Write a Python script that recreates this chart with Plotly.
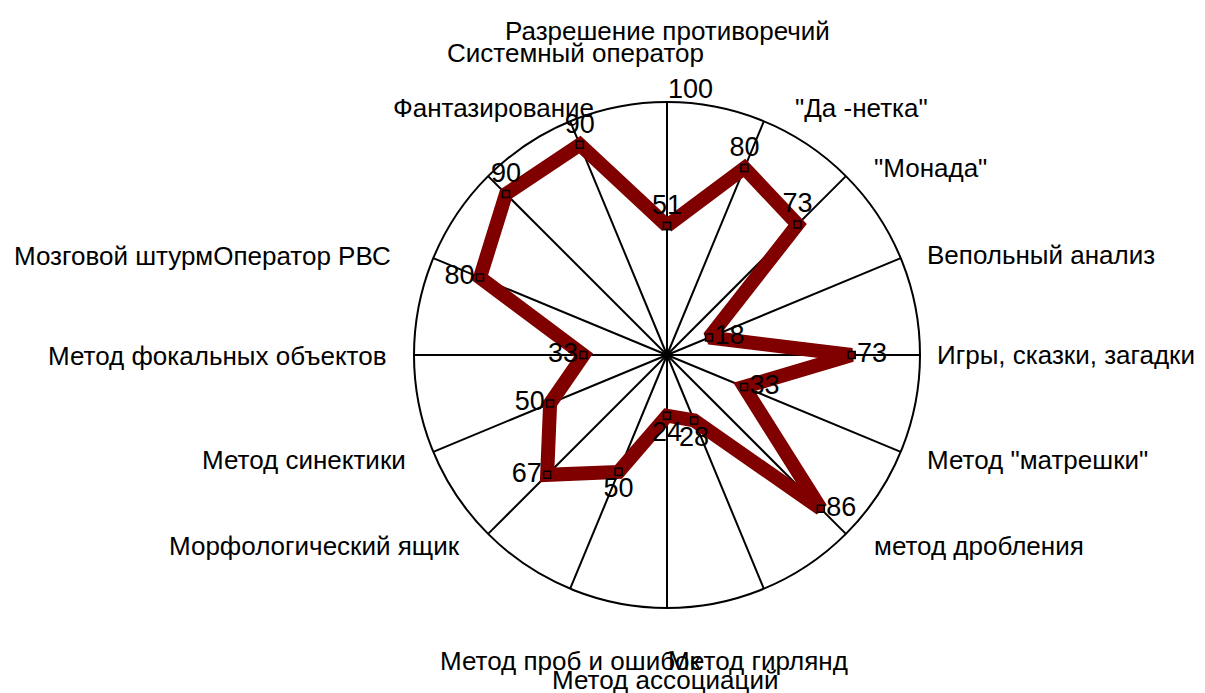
import plotly.graph_objects as go

# ---- data ----
categories = [
    "Разрешение противоречий", '"Да -нетка"', '"Монада"', "Вепольный анализ",
    "Игры, сказки, загадки", 'Метод "матрешки"', "метод дробления", "Метод гирлянд",
    "Метод ассоциаций", "Метод проб и ошибок", "Морфологический ящик", "Метод синектики",
    "Метод фокальных объектов", "Мозговой штурм", "Оператор РВС", "Фантазирование",
]
values = [51, 80, 73, 18, 73, 33, 86, 28, 24, 50, 67, 50, 33, 80, 90, 90]
extra_label = "Системный оператор"
radial_max_label = "100"

W, H = 1205, 693
OFF = 8  # default page body margin
CX, CY, R = 667, 355, 253

def px(x):
    return (x - OFF) / W

def py(y):
    return 1 - (y - OFF) / H

label_pos = ["top center", "top center", "top center", "middle right", "middle right",
             "middle right", "middle right", "bottom center", "bottom center", "bottom center",
             "middle left", "middle left", "middle left", "middle left", "top center", "top center"]

theta = categories + [categories[0]]
r = values + [values[0]]
texts = [str(v) for v in values] + [""]
tpos = label_pos + ["top center"]

FONT = "Liberation Sans, Arial, sans-serif"

fig = go.Figure()
fig.add_trace(go.Scatterpolar(
    r=r, theta=theta, mode="lines+markers+text",
    line=dict(color="#800000", width=14),
    marker=dict(symbol="square", size=7, color="#800000", line=dict(color="#000000", width=1.5)),
    text=texts, textposition=tpos,
    textfont=dict(family=FONT, size=27, color="#000000"),
    hoverinfo="skip", cliponaxis=False,
))

fig.update_layout(
    width=W, height=H,
    margin=dict(l=0, r=0, t=0, b=0),
    paper_bgcolor="white",
    showlegend=False,
    polar=dict(
        domain=dict(x=[px(CX - R), px(CX + R)], y=[py(CY + R), py(CY - R)]),
        bgcolor="white",
        angularaxis=dict(
            type="category", rotation=90, direction="clockwise",
            showticklabels=False, ticks="",
            showgrid=True, gridcolor="#000000", gridwidth=1.5,
            showline=True, linecolor="#000000", linewidth=2,
        ),
        radialaxis=dict(
            range=[0, 100], showgrid=False, showline=False, ticks="",
            showticklabels=False, angle=90,
        ),
    ),
)

lab_font = dict(family=FONT, size=26, color="#000000")
ann = [
    (categories[0], 667.5, 31, "center"),
    (extra_label, 575, 53, "center"),
    (categories[15], 596, 108, "right"),
    (categories[1], 793, 108, "left"),
    (categories[2], 872, 168, "left"),
    (categories[3], 925, 255, "left"),
    (categories[4], 1197, 355, "right"),
    (categories[5], 925, 460, "left"),
    (categories[6], 872, 546, "left"),
    (categories[7], 850, 661, "right"),
    (categories[8], 665, 680, "center"),
    (categories[9], 438, 661, "left"),
    (categories[10], 462, 546, "right"),
    (categories[11], 408, 460, "right"),
    (categories[12], 388, 356, "right"),
    (categories[13] + categories[14], 393, 256, "right"),
]
for t, x, y, xa in ann:
    fig.add_annotation(text=t, x=px(x), y=py(y), xref="paper", yref="paper",
                       xanchor=xa, yanchor="middle", showarrow=False, font=lab_font)

fig.add_annotation(text=radial_max_label, x=px(690), y=py(89), xref="paper", yref="paper",
                   xanchor="center", yanchor="middle", showarrow=False,
                   font=dict(family=FONT, size=27, color="#000000"))

fig.write_html("out.html")
